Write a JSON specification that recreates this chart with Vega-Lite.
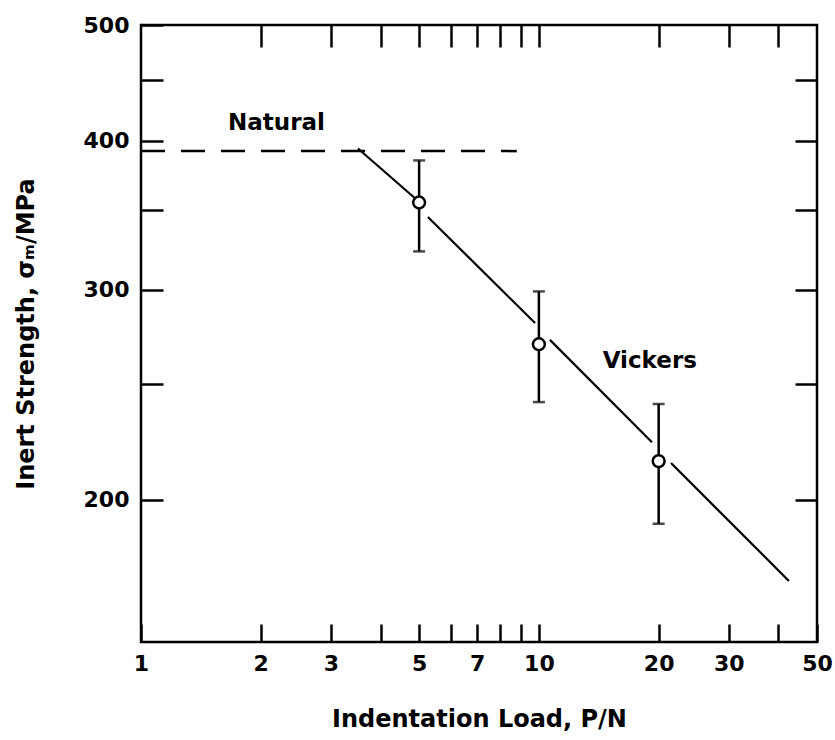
{
  "$schema": "https://vega.github.io/schema/vega-lite/v6.json",
  "width": 676,
  "height": 617,
  "autosize": {"type": "none"},
  "padding": {"left": 141, "top": 25, "right": 18, "bottom": 98},
  "background": "white",
  "config": {
    "view": {"stroke": "black", "strokeWidth": 2.5},
    "font": "DejaVu Sans",
    "axis": {
      "domain": false,
      "grid": false,
      "tickColor": "black",
      "tickWidth": 2.5,
      "labelFont": "DejaVu Sans",
      "labelFontWeight": "bold",
      "labelFontSize": 22,
      "labelColor": "black",
      "labelFlush": false,
      "labelOverlap": false,
      "titleFont": "DejaVu Sans",
      "titleFontWeight": "bold",
      "titleFontSize": 24,
      "titleColor": "black"
    }
  },
  "datasets": {
    "fit": [
      {"seg": 1, "P": 3.51, "sigma": 394},
      {"seg": 1, "P": 4.94, "sigma": 356.7},
      {"seg": 2, "P": 5.26, "sigma": 345.2},
      {"seg": 2, "P": 9.78, "sigma": 281.3},
      {"seg": 3, "P": 10.66, "sigma": 272.3},
      {"seg": 3, "P": 19.24, "sigma": 223.5},
      {"seg": 4, "P": 21.48, "sigma": 214.7},
      {"seg": 4, "P": 42.5, "sigma": 171}
    ],
    "natural": [
      {"P": 1, "sigma": 392},
      {"P": 8.8, "sigma": 392}
    ],
    "points": [
      {"P": 5, "sigma": 355, "lo": 323, "hi": 385},
      {"P": 10, "sigma": 270, "lo": 241.5, "hi": 299},
      {"P": 20, "sigma": 215.5, "lo": 191, "hi": 240.6}
    ],
    "labels": [
      {"P": 2.19, "sigma": 413.5, "text": "Natural"},
      {"P": 19.0, "sigma": 261.6, "text": "Vickers"}
    ]
  },
  "resolve": {"axis": {"x": "independent", "y": "independent"}},
  "layer": [
    {
      "data": {"name": "fit"},
      "mark": {"type": "line", "color": "black", "strokeWidth": 2.2},
      "encoding": {
        "x": {
          "field": "P", "type": "quantitative",
          "scale": {"type": "log", "domain": [1, 50], "nice": false},
          "axis": {
            "orient": "bottom",
            "values": [1, 2, 3, 4, 5, 6, 7, 8, 9, 10, 20, 30, 40, 50],
            "labelExpr": "indexof([1,2,3,5,7,10,20,30,50], datum.value) >= 0 ? datum.label : ''",
            "tickSize": -18,
            "labelPadding": 29,
            "title": "Indentation Load, P/N",
            "titlePadding": 33
          }
        },
        "y": {
          "field": "sigma", "type": "quantitative",
          "scale": {"type": "log", "domain": [152, 500], "nice": false},
          "axis": {
            "orient": "left",
            "values": [200, 250, 300, 350, 400, 450, 500],
            "labelExpr": "indexof([200,300,400,500], datum.value) >= 0 ? datum.label : ''",
            "tickSize": -22,
            "labelPadding": 34,
            "title": "Inert Strength, σₘ/MPa",
            "titlePadding": 45
          }
        },
        "detail": {"field": "seg"}
      }
    },
    {
      "data": {"name": "natural"},
      "mark": {"type": "line", "color": "black", "strokeWidth": 2.5, "strokeDash": [24, 16]},
      "encoding": {
        "x": {"field": "P", "type": "quantitative", "axis": null},
        "y": {"field": "sigma", "type": "quantitative", "axis": null}
      }
    },
    {
      "data": {"name": "points"},
      "mark": {"type": "rule", "color": "black", "strokeWidth": 2.5},
      "encoding": {
        "x": {
          "field": "P", "type": "quantitative",
          "axis": {
            "orient": "top",
            "values": [2, 3, 4, 5, 6, 7, 8, 9, 10, 20, 30, 40],
            "labels": false,
            "tickSize": -22,
            "title": null
          }
        },
        "y": {
          "field": "lo", "type": "quantitative",
          "axis": {
            "orient": "right",
            "values": [200, 250, 300, 350, 400, 450],
            "labels": false,
            "tickSize": -22,
            "title": null
          }
        },
        "y2": {"field": "hi"}
      }
    },
    {
      "data": {"name": "points"},
      "mark": {"type": "tick", "color": "black", "orient": "horizontal", "size": 12, "thickness": 2.5},
      "encoding": {
        "x": {"field": "P", "type": "quantitative", "axis": null},
        "y": {"field": "lo", "type": "quantitative", "axis": null}
      }
    },
    {
      "data": {"name": "points"},
      "mark": {"type": "tick", "color": "black", "orient": "horizontal", "size": 12, "thickness": 2.5},
      "encoding": {
        "x": {"field": "P", "type": "quantitative", "axis": null},
        "y": {"field": "hi", "type": "quantitative", "axis": null}
      }
    },
    {
      "data": {"name": "points"},
      "mark": {"type": "point", "shape": "circle", "filled": true, "fill": "white", "stroke": "black", "strokeWidth": 2.5, "size": 140, "opacity": 1},
      "encoding": {
        "x": {"field": "P", "type": "quantitative", "axis": null},
        "y": {"field": "sigma", "type": "quantitative", "axis": null}
      }
    },
    {
      "data": {"name": "labels"},
      "mark": {"type": "text", "font": "DejaVu Sans", "fontWeight": "bold", "fontSize": 23, "color": "black", "align": "center", "baseline": "middle"},
      "encoding": {
        "x": {"field": "P", "type": "quantitative", "axis": null},
        "y": {"field": "sigma", "type": "quantitative", "axis": null},
        "text": {"field": "text"}
      }
    }
  ]
}
